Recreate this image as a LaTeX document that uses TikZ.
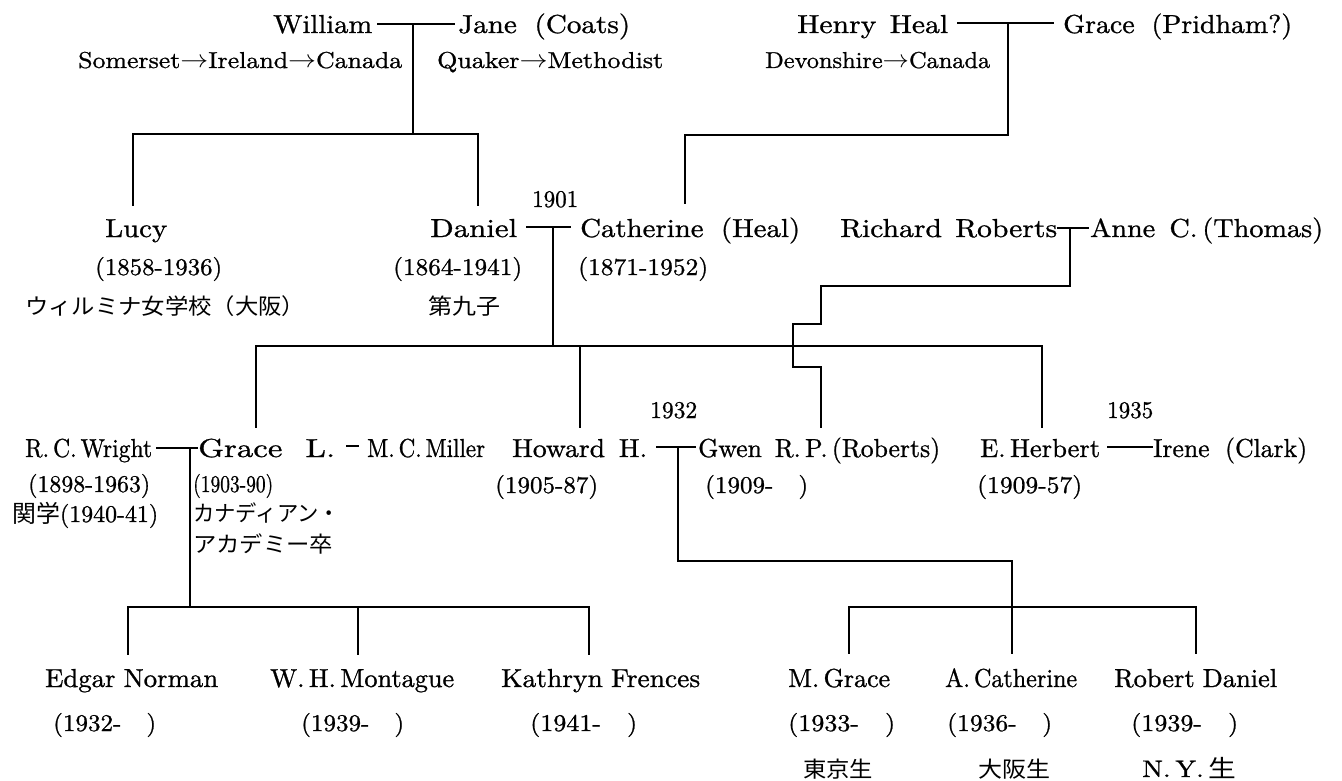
\documentclass[tikz,border=0pt]{standalone}
\usepackage{fontspec}
\usepackage{graphicx}
\setmainfont{lmroman10-regular.otf}[FakeBold=0.9]
\newfontfamily\jp{Noto Sans CJK JP}
\newcommand\fw[2]{\resizebox{#1pt}{\height}{#2}}
\tikzset{
  nm/.style={anchor=base west, inner sep=0pt, font=\fontsize{26}{30}\selectfont},
  sb/.style={anchor=base west, inner sep=0pt, font=\fontsize{23}{28}\selectfont},
  yr/.style={anchor=base west, inner sep=0pt, font=\fontsize{24}{28}\selectfont},
  jt/.style={anchor=base west, inner sep=0pt, font=\jp\fontsize{22}{26}\selectfont},
  ln/.style={line width=1.3pt, line cap=rect}
}
\begin{document}
\begin{tikzpicture}[x=1pt,y=-1pt]
\useasboundingbox (0,0) rectangle (1342,781);
% ---------- generation 1
\node[nm] (william) at (273,33) {\fw{99}{William}};
\node[nm] (jane) at (458,33) {\fw{172}{Jane\hspace{.6em}(Coats)}};
\node[sb] (wplace) at (78,68) {\fw{324}{Somerset$\rightarrow$Ireland$\rightarrow$Canada}};
\node[sb] (jrel) at (437,68) {\fw{226}{Quaker$\rightarrow$Methodist}};
\node[nm] (henry) at (797,33) {\fw{151}{Henry\hspace{.45em}Heal}};
\node[nm] (graceP) at (1063,33) {\fw{229}{Grace\hspace{.6em}(Pridham?)}};
\node[sb] (hplace) at (765,68) {\fw{225}{Devonshire$\rightarrow$Canada}};
% ---------- generation 2
\node[nm] (lucy) at (105,237) {\fw{62}{Lucy}};
\node[yr] (lucyY) at (95,275) {\fw{127}{(1858-1936)}};
\node[jt] (lucyN) at (25,314) {\fw{280}{ウィルミナ女学校（大阪）}};
\node[nm] (daniel) at (430,237) {\fw{87}{Daniel}};
\node[yr] (danielY) at (393,275) {\fw{129}{(1864-1941)}};
\node[jt] (danielN) at (428,314) {\fw{72}{第九子}};
\node[yr] (y1901) at (532,207) {\fw{46}{1901}};
\node[nm] (cath) at (580,237) {\fw{220}{Catherine\hspace{.6em}(Heal)}};
\node[yr] (cathY) at (578,275) {\fw{130}{(1871-1952)}};
\node[nm] (richard) at (840,237) {\fw{217}{Richard\hspace{.45em}Roberts}};
\node[nm] (anne) at (1090,237) {\fw{233}{Anne\hspace{.5em}C.\,(Thomas)}};
% ---------- generation 3
\node[nm] (wright) at (25,457) {\fw{127}{R.\,C.\,Wright}};
\node[yr] (wrightY) at (28,492) {\fw{122}{(1898-1963)}};
\node[yr] (wrightN) at (12,522) {\fw{146}{{\jp 関学}(1940-41)}};
\node[nm] (graceL) at (198,457) {\fw{137}{Grace\hspace{.7em}L.}};
\node[nm] (miller) at (367,457) {\fw{118}{M.\,C.\,Miller}};
\node[yr] (graceY) at (193,492) {\fw{80}{(1903-90)}};
\node[jt] (graceN1) at (193,521) {\fw{147}{カナディアン・}};
\node[jt] (graceN2) at (193,552) {\fw{140}{アカデミー卒}};
\node[nm] (howard) at (512,457) {\fw{135}{Howard\hspace{.5em}H.}};
\node[yr] (howardY) at (495,493) {\fw{103}{(1905-87)}};
\node[yr] (y1932) at (650,418) {\fw{47}{1932}};
\node[nm] (gwen) at (698,457) {\fw{242}{Gwen\hspace{.5em}R.\,P.\,(Roberts)}};
\node[yr] (gwenY) at (705,493) {\fw{103}{(1909-\hspace{1em})}};
\node[nm] (herbert) at (980,457) {\fw{120}{E.\,Herbert}};
\node[yr] (herbertY) at (977,493) {\fw{105}{(1909-57)}};
\node[yr] (y1935) at (1107,418) {\fw{46}{1935}};
\node[nm] (irene) at (1153,457) {\fw{154}{Irene\hspace{.6em}(Clark)}};
% ---------- generation 4
\node[nm] (edgar) at (45,687) {\fw{173}{Edgar\hspace{.3em}Norman}};
\node[nm] (montague) at (270,687) {\fw{184}{W.\,H.\,Montague}};
\node[nm] (kathryn) at (501,687) {\fw{199}{Kathryn\hspace{.3em}Frences}};
\node[nm] (mgrace) at (788,687) {\fw{102}{M.\,Grace}};
\node[nm] (acath) at (945,687) {\fw{132}{A.\,Catherine}};
\node[nm] (robert) at (1114,687) {\fw{163}{Robert\hspace{.3em}Daniel}};
\node[yr] (edgarY) at (53,731) {\fw{103}{(1932-\hspace{1em})}};
\node[yr] (montagueY) at (301,731) {\fw{103}{(1939-\hspace{1em})}};
\node[yr] (kathrynY) at (530,731) {\fw{107}{(1941-\hspace{1em})}};
\node[yr] (mgraceY) at (788,731) {\fw{107}{(1933-\hspace{1em})}};
\node[yr] (acathY) at (947,731) {\fw{105}{(1936-\hspace{1em})}};
\node[yr] (robertY) at (1131,731) {\fw{107}{(1939-\hspace{1em})}};
\node[jt] (mgraceN) at (803,777) {\fw{70}{東京生}};
\node[jt] (acathN) at (978,777) {\fw{72}{大阪生}};
\node[yr] (robertN) at (1142,777) {\fw{94}{N.\,Y.\,{\jp 生}}};
% ---------- junction coordinates
\coordinate (wjL) at (378,24);  \coordinate (wjR) at (454,24);
\coordinate (wjM) at (413,24);  \coordinate (wjD) at (413,134);
\coordinate (lucyT) at (133,205); \coordinate (danT) at (478,205);
\coordinate (hgL) at (958,23);  \coordinate (hgR) at (1053,23);
\coordinate (hgM) at (1008,23); \coordinate (hgD) at (1008,135);
\coordinate (cathT) at (685,203);
\coordinate (dcL) at (527,227); \coordinate (dcR) at (570,227);
\coordinate (dcM) at (553,227); \coordinate (dcD) at (553,346);
\coordinate (sibL) at (256,346); \coordinate (sibR) at (1042,346);
\coordinate (graceT) at (256,427); \coordinate (howardT) at (580,427);
\coordinate (herbertT) at (1042,427); \coordinate (howardS) at (580,346);
\coordinate (raL) at (1058,228); \coordinate (raR) at (1088,228);
\coordinate (raM) at (1070,228);
\coordinate (gwenT) at (821,427);
\coordinate (wgL) at (157,448); \coordinate (wgR) at (197,448);
\coordinate (wgM) at (190,448); \coordinate (wgD) at (190,607);
\coordinate (edgarT) at (128,654); \coordinate (montT) at (358,654);
\coordinate (kathT) at (589,654);
\coordinate (gmL) at (347,446); \coordinate (gmR) at (358,446);
\coordinate (hwL) at (657,447); \coordinate (hwR) at (695,447);
\coordinate (hwM) at (678,447);
\coordinate (mgT) at (849,653); \coordinate (acT) at (1012,653);
\coordinate (rdT) at (1196,653);
\coordinate (hiL) at (1108,447); \coordinate (hiR) at (1152,447);
% ---------- connectors
\draw[ln] (wjL) -- (wjR);
\draw[ln] (wjM) -- (wjD);
\draw[ln] (lucyT) |- (wjD) -| (danT);
\draw[ln] (hgL) -- (hgR);
\draw[ln] (hgM) -- (hgD) -| (cathT);
\draw[ln] (dcL) -- (dcR);
\draw[ln] (dcM) -- (dcD);
\draw[ln] (graceT) -- (sibL) -- (sibR) -- (herbertT);
\draw[ln] (howardS) -- (howardT);
\draw[ln] (raL) -- (raR);
\draw[ln] (raM) -- ++(0,58) -| ++(-249,38) -| ++(-28,43) -| (gwenT);
\draw[ln] (wgL) -- (wgR);
\draw[ln] (wgM) -- (wgD);
\draw[ln] (edgarT) |- (kathT |- wgD) -- (kathT);
\draw[ln] (montT |- wgD) -- (montT);
\draw[ln] (gmL) -- (gmR);
\draw[ln] (hwL) -- (hwR);
\draw[ln] (hwM) |- (1012,561) -- (acT);
\draw[ln] (mgT) |- (rdT |- wgD) -- (rdT);
\draw[ln] (hiL) -- (hiR);
\end{tikzpicture}
\end{document}
